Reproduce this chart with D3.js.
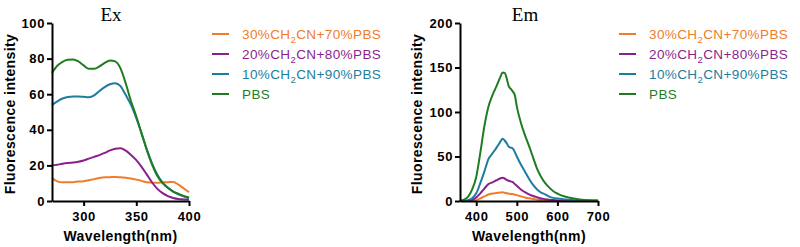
<!DOCTYPE html>
<html lang="en">
  <head>
    <meta charset="utf-8" />
    <title>Ex / Em spectra</title>
    <script src="https://d3js.org/d3.v7.min.js"></script>
    <style type="text/css">
      body { margin: 0; background: #fff; }
      svg { display: block; font-family: Arial, "Liberation Sans", sans-serif; }
      .axis path, .axis line { stroke: #000; stroke-width: 2; }
      .axis text { font-size: 13px; font-weight: bold; fill: #000; letter-spacing: 0.6px; }
      .ttl { font-family: "Liberation Serif", "Times New Roman", serif; font-size: 19px; }
      .lbl { font-size: 14px; font-weight: bold; letter-spacing: 0.4px; }
      .leg { font-size: 13.5px; letter-spacing: 0.4px; }
    </style>
  </head>
  <body>
    <svg id="chart" width="800" height="247"></svg>
    <script type="text/javascript">
      // series names + colours
      const seriesNames = ["30%CH2CN+70%PBS", "20%CH2CN+80%PBS", "10%CH2CN+90%PBS", "PBS"];
      const seriesColors = ["#f07c2a", "#8c1f8e", "#1d7d9e", "#1f7d1f"];

      /* excitation data */
      const exWavelengths = [270,275,280,285,290,295,300,305,310,315,320,325,330,335,340,345,350,355,360,365,370,375,380,385,390,395,400];
      const ex30 = [13.1,11,10.5,10.5,10.6,10.9,11.1,11.7,12.3,12.9,13.3,13.4,13.5,13.3,13,12.6,12,11.3,10.5,10.3,10.3,10.5,10.6,10.7,9.2,7.1,4.9];
      const ex20 = [19.9,20.4,20.9,21.3,21.6,22.1,22.8,23.8,24.8,25.8,27,28.4,29.4,29.6,28.3,25.9,23,19.2,14.8,10.4,6.8,4.4,2.7,1.7,1.1,0.9,0.8];
      const ex10 = [54,56,57.6,58.4,58.7,58.7,58.5,58.3,59.3,61.8,64,65.6,66.2,64.5,59.5,54,46.5,38,29,21,14.8,10.3,7.4,5.3,3.8,2.6,1.5];
      const exPBS = [72,76,78.2,79.3,79.5,78.4,76.2,74.3,74.3,75.6,77.6,79,78.4,74.5,66,56,47.5,38,28.5,20.5,14,10,7.4,5.3,4,2.8,2];
      const exXTicks = [300, 350, 400];
      const exYTicks = [0, 20, 40, 60, 80, 100];

      /* emission data */
      const emWavelengths = [360,370,380,390,400,410,420,430,440,450,460,465,470,475,480,485,490,495,500,510,520,530,540,550,560,570,580,590,600,620,640,660,680,700];
      const em30 = [0,0,0.2,0.5,1,3,5.2,7.3,8.4,9,9.6,9.7,9.3,8.7,8.2,8,7.9,7,6.6,5.2,4,3,2.2,1.5,1,0.7,0.5,0.3,0.3,0.2,0.1,0,0,0];
      const em20 = [0,0,0.4,1.1,4,8.5,14,19,21,23.3,25.5,26,25.3,23.8,22.8,22,21.2,19,17,13,10,7.5,5.6,4.2,2.8,2,1.4,1,0.7,0.4,0.3,0.2,0.2,0.2];
      const em10 = [0,0.3,1,3,8.6,20,33,47,53.5,60,67,70,68,65,61,60,59,55,50,41,33,25,18,13,9.5,7.5,5,3.5,2.7,1.7,0.8,0.5,0.3,0.3];
      const emPBS = [0.3,1.5,5,13,27,54,84,106,119,129,140,144.5,144,138,129,126,123,119,106,88,74,62,49,36,27,20,15,11,8.4,4.8,2.8,1.4,0.8,0.5];
      const emXTicks = [400, 500, 600, 700];
      const emYTicks = [0, 50, 100, 150, 200];

      const svg = d3.select("#chart");

      function drawPanel(opt) {
        const x = d3.scaleLinear().domain(opt.xDomain).range([opt.left, opt.right]);
        const y = d3.scaleLinear().domain(opt.yDomain).range([opt.bottom, opt.top]);
        const g = svg.append("g");

        // curves
        const line = d3.line()
          .x(d => x(d[0]))
          .y(d => y(d[1]))
          .curve(d3.curveMonotoneX);
        opt.series.forEach((vals, i) => {
          g.append("path")
            .datum(opt.xs.map((w, j) => [w, vals[j]]))
            .attr("d", line)
            .attr("fill", "none")
            .attr("stroke", seriesColors[i])
            .attr("stroke-width", 2);
        });

        // axes
        g.append("g")
          .attr("class", "axis")
          .attr("transform", `translate(0,${opt.bottom})`)
          .call(d3.axisBottom(x).tickValues(opt.xTicks).tickSize(5).tickPadding(6).tickSizeOuter(0));
        g.append("g")
          .attr("class", "axis")
          .attr("transform", `translate(${opt.left},0)`)
          .call(d3.axisLeft(y).tickValues(opt.yTicks).tickSize(5).tickPadding(2).tickSizeOuter(0));

        // title and labels
        g.append("text").attr("class", "ttl")
          .attr("x", opt.titleX).attr("y", 21)
          .attr("text-anchor", "middle").text(opt.title);
        g.append("text").attr("class", "lbl")
          .attr("x", (opt.left + opt.right) / 2).attr("y", 241)
          .attr("text-anchor", "middle").text("Wavelength(nm)");
        g.append("text").attr("class", "lbl")
          .attr("transform", `translate(${opt.yLabelX},${(opt.top + opt.bottom) / 2 + 2}) rotate(-90)`)
          .attr("text-anchor", "middle").text("Fluorescence intensity");

        // legend
        const leg = g.selectAll(".legrow")
          .data(seriesNames)
          .enter()
          .append("g")
          .attr("transform", (d, i) => `translate(${opt.legX},${34 + i * 20})`);
        leg.append("line")
          .attr("x1", 0).attr("x2", 17)
          .attr("stroke", (d, i) => seriesColors[i])
          .attr("stroke-width", 2);
        const txt = leg.append("text").attr("class", "leg")
          .attr("x", 30).attr("y", 5)
          .attr("fill", (d, i) => seriesColors[i]);
        // CH2CN with subscript 2
        txt.each(function (d) {
          const t = d3.select(this);
          const k = d.indexOf("CH2");
          if (k < 0) { t.text(d); return; }
          t.append("tspan").text(d.slice(0, k + 2));
          t.append("tspan").attr("dy", 4).attr("font-size", "9.5px").text("2");
          t.append("tspan").attr("dy", -4).text(d.slice(k + 3));
        });
      }

      drawPanel({
        xs: exWavelengths, series: [ex30, ex20, ex10, exPBS],
        xDomain: [270, 400], yDomain: [0, 100],
        left: 52, right: 189, top: 23, bottom: 201,
        xTicks: exXTicks, yTicks: exYTicks,
        title: "Ex", titleX: 111, yLabelX: 15, legX: 212
      });
      drawPanel({
        xs: emWavelengths, series: [em30, em20, em10, emPBS],
        xDomain: [360, 700], yDomain: [0, 200],
        left: 460, right: 598, top: 23, bottom: 201,
        xTicks: emXTicks, yTicks: emYTicks,
        title: "Em", titleX: 525, yLabelX: 422, legX: 619
      });
    </script>
  </body>
</html>
